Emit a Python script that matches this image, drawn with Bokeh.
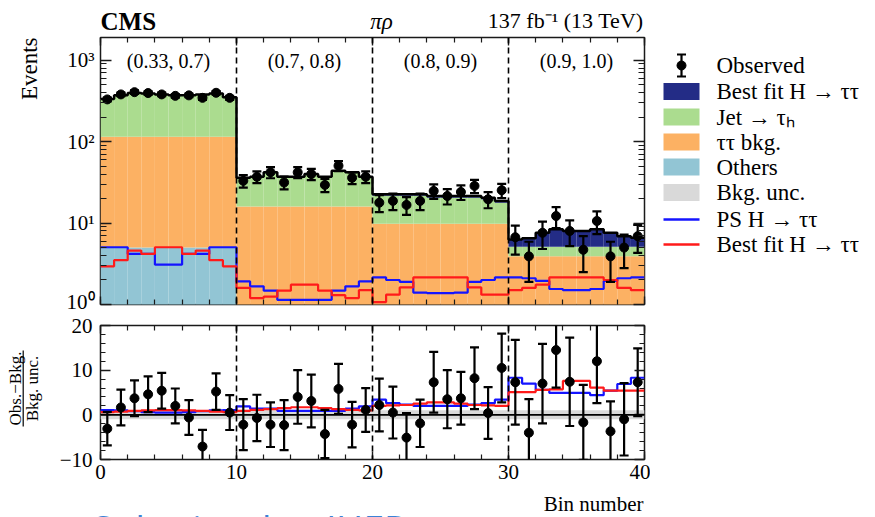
import math
import numpy as np
from bokeh.plotting import figure
from bokeh.models import Range1d, FixedTicker, LinearAxis, LogAxis, Span, Label
from bokeh.layouts import column, row
from bokeh.embed import file_html
from bokeh.resources import INLINE
from bokeh.core.properties import value

FONT = "Liberation Serif"

# ---------------- data ----------------
group_labels = ["(0.33, 0.7)", "(0.7, 0.8)", "(0.8, 0.9)", "(0.9, 1.0)"]
group_centers = [5, 15, 25, 35]
group_bounds = [10, 20, 30]

others_g1 = [5.0, 5.0, 5.0, 5.0, 5.0, 5.0, 5.0, 5.0, 5.0, 5.0]
others_g2 = [0.5, 0.5, 0.5, 0.5, 0.5, 0.5, 0.5, 0.5, 0.5, 0.5]
others_g3 = [0.4, 0.4, 0.4, 0.4, 0.4, 0.4, 0.4, 0.4, 0.4, 0.4]
others_g4 = [0.3, 0.3, 0.3, 0.3, 0.3, 0.3, 0.3, 0.3, 0.3, 0.3]

tt_g1 = [110, 110, 110, 110, 110, 110, 110, 110, 110, 110]
tt_g2 = [15.5, 15.5, 15.5, 15.5, 15.5, 15.5, 15.5, 15.5, 15.5, 15.5]
tt_g3 = [9.4, 9.4, 9.4, 9.4, 9.4, 9.4, 9.4, 9.4, 9.4, 9.4]
tt_g4 = [3.6, 3.6, 3.6, 3.6, 3.6, 3.6, 3.6, 3.6, 3.6, 3.6]

jet_g1 = [218, 253, 278, 273, 263, 253, 253, 263, 273, 233]
jet_g2 = [19.4, 20.4, 25.4, 20.4, 20.4, 23.4, 20.4, 27.4, 25.4, 20.4]
jet_g3 = [11.8, 11.8, 11.8, 11.8, 10.7, 10.7, 10.7, 10.7, 9.7, 7.9]
jet_g4 = [1.2, 1.2, 1.2, 1.2, 1.2, 1.2, 1.2, 1.2, 1.2, 1.2]

higgs_g1 = [2.0, 2.0, 2.0, 2.0, 2.0, 2.0, 2.0, 2.0, 2.0, 2.0]
higgs_g2 = [0.6, 0.6, 0.6, 0.6, 0.6, 0.6, 0.6, 0.6, 0.6, 0.6]
higgs_g3 = [1.0, 1.0, 1.0, 1.0, 1.0, 1.0, 1.0, 1.0, 1.0, 1.0]
higgs_g4 = [1.2, 1.4, 2.5, 3.3, 2.9, 2.9, 3.3, 2.5, 1.8, 1.5]

obs_g1 = [330, 380, 405, 395, 380, 365, 370, 345, 398, 345]
obs_g2 = [33, 37, 42, 31.5, 42, 40, 29.4, 50.5, 36, 37]
obs_g3 = [17.8, 18.7, 16.7, 18.7, 24.8, 21.5, 24.1, 28.6, 19.6, 25.3]
obs_g4 = [6.7, 3.9, 7.6, 12.2, 8.0, 4.7, 10.6, 3.9, 5.0, 6.9]

obs_err_g1 = [18, 19, 20, 20, 19, 19, 19, 19, 20, 19]
obs_err_g2 = [5.7, 6.1, 6.5, 5.6, 6.5, 6.3, 5.4, 7.1, 6.0, 6.1]
obs_err_g3 = [4.2, 4.3, 4.1, 4.3, 5.0, 4.6, 4.9, 5.3, 4.4, 5.0]
obs_err_g4 = [2.6, 2.0, 2.8, 3.5, 2.8, 2.2, 3.3, 2.0, 2.2, 2.6]

ps_g1 = [5.05, 5.05, 4.18, 4.18, 3.09, 3.09, 4.18, 4.18, 5.05, 5.05]
ps_g2 = [1.92, 1.67, 1.48, 1.14, 1.14, 1.14, 1.14, 1.48, 1.67, 1.92]
ps_g3 = [2.15, 2.0, 1.9, 1.4, 1.38, 1.38, 1.4, 1.9, 2.0, 2.15]
ps_g4 = [2.15, 2.1, 1.95, 1.55, 1.5, 1.5, 1.55, 1.95, 2.1, 2.15]

bf_g1 = [2.94, 3.5, 4.6, 4.18, 5.05, 5.05, 4.18, 4.6, 3.5, 2.94]
bf_g2 = [1.6, 1.2, 1.25, 1.48, 1.75, 1.75, 1.48, 1.3, 1.2, 1.5]
bf_g3 = [1.07, 1.32, 1.62, 2.15, 2.15, 2.15, 2.15, 1.62, 1.32, 1.32]
bf_g4 = [1.5, 1.6, 1.75, 2.15, 2.15, 2.15, 2.15, 2.0, 1.6, 1.5]

# ratio panel: (Obs. - Bkg.) / Bkg. unc.
pull = [-3.1, 1.65, 3.7, 4.6, 5.4, 2.0, -0.6, -7.1, 5.2, 0.5,
        -2.2, -0.7, -2.2, -2.3, 4.0, 3.1, -4.3, 5.8, -2.2, 1.1,
        2.2, 0.5, -5.1, -1.9, 7.3, 3.5, 3.7, 8.2, 0.4, 10.5,
        7.3, -4.0, 7.0, 14.5, 7.4, -1.7, 12.0, -3.7, -1.0, 7.3]
pull_err = [3.75, 4.0, 4.0, 4.0, 4.0, 3.9, 3.9, 3.75, 4.1, 3.9,
            5.7, 5.2, 5.0, 5.6, 6.0, 5.9, 5.4, 5.6, 5.1, 4.9,
            5.9, 5.8, 5.5, 5.3, 6.8, 6.5, 5.9, 6.9, 5.8, 7.7,
            9.5, 7.5, 8.9, 8.4, 9.9, 8.4, 9.4, 6.7, 8.1, 7.6]
pull_ps = [1.05, 1.0, 0.8, 0.6, 0.5, 0.5, 0.6, 0.8, 1.0, 1.05,
           1.9, 1.4, 1.4, 0.9, 0.9, 0.9, 0.9, 0.9, 1.4, 1.9,
           3.4, 2.6, 2.3, 2.0, 2.0, 2.0, 2.0, 2.3, 2.6, 3.4,
           8.3, 7.0, 5.6, 4.9, 4.9, 4.9, 4.4, 5.4, 6.9, 8.3]
pull_bf = [0.6, 0.7, 0.9, 1.0, 1.05, 1.05, 1.0, 0.9, 0.7, 0.6,
           0.9, 1.1, 1.3, 1.5, 1.7, 1.7, 1.5, 1.3, 1.1, 1.0,
           2.0, 2.1, 2.2, 2.5, 2.8, 2.8, 2.5, 2.2, 2.1, 2.0,
           5.1, 5.1, 5.6, 5.7, 7.6, 7.6, 6.1, 5.4, 5.4, 5.4]
bkg_unc_band = 1.0

legend_labels = ["Observed", "Best fit H \u2192 \u03c4\u03c4", "Jet \u2192 \u03c4\u2095",
                 "\u03c4\u03c4 bkg.", "Others", "Bkg. unc.", "PS H \u2192 \u03c4\u03c4",
                 "Best fit H \u2192 \u03c4\u03c4"]

x_major = [0, 10, 20, 30, 40]
x_minor = [0, 2, 4, 6, 8, 10, 12, 14, 16, 18, 20, 22, 24, 26, 28, 30, 32, 34, 36, 38, 40]
log_major = [1, 10, 100, 1000]
log_minor = [2, 3, 4, 5, 6, 7, 8, 9, 20, 30, 40, 50, 60, 70, 80, 90,
             200, 300, 400, 500, 600, 700, 800, 900]
log_labels = {1: "10\u2070", 10: "10\u00b9", 100: "10\u00b2", 1000: "10\u00b3"}
r_major = [-10, 0, 10, 20]
r_minor = [-10, -8, -6, -4, -2, 0, 2, 4, 6, 8, 10, 12, 14, 16, 18, 20]
r_labels = {-10: "\u221210", 0: "0", 10: "10", 20: "20"}

# ---------------- colours ----------------
C_OTH = "#92c5d4"
C_TT = "#fcb163"
C_JET = "#abdc8f"
C_H = "#232c86"
C_UNC = "#d9d9d9"
C_PS = "#1414ff"
C_BF = "#ff1a1a"
C_AX = "#1a1a1a"

def cat(a, b, c, d):
    return np.array(a + b + c + d, dtype=float)

others = cat(others_g1, others_g2, others_g3, others_g4)
tt = cat(tt_g1, tt_g2, tt_g3, tt_g4)
jet = cat(jet_g1, jet_g2, jet_g3, jet_g4)
higgs = cat(higgs_g1, higgs_g2, higgs_g3, higgs_g4)
obs = cat(obs_g1, obs_g2, obs_g3, obs_g4)
obs_err = cat(obs_err_g1, obs_err_g2, obs_err_g3, obs_err_g4)
ps = cat(ps_g1, ps_g2, ps_g3, ps_g4)
bf = cat(bf_g1, bf_g2, bf_g3, bf_g4)
pull = np.array(pull); pull_err = np.array(pull_err)
pull_ps = np.array(pull_ps); pull_bf = np.array(pull_bf)

N = len(obs)
edges = np.arange(N + 1, dtype=float)
centers = edges[:-1] + 0.5

def stepy(v):
    return np.append(v, v[-1])

YMIN, YMAX = 1, 1900
RMIN, RMAX = -10, 20

def style_ax(ax, ticker, show, maj=10, mnr=5, size="21px", standoff=6, overrides=None):
    ax.ticker = ticker
    ax.axis_line_color = None
    ax.major_tick_in = maj
    ax.major_tick_out = 0
    ax.minor_tick_in = mnr
    ax.minor_tick_out = 0
    ax.major_tick_line_color = C_AX
    ax.minor_tick_line_color = C_AX
    ax.major_tick_line_width = 1.4
    ax.minor_tick_line_width = 1.2
    if show:
        ax.major_label_text_font = FONT
        ax.major_label_text_font_size = size
        ax.major_label_text_color = "black"
        ax.major_label_standoff = standoff
        if overrides:
            ax.major_label_overrides = overrides
    else:
        ax.major_label_text_font_size = "1px"
        ax.major_label_text_color = None
        ax.major_label_standoff = 0

def pixel_fig(w, h, bl=0, br=0):
    """Plain canvas, pixel coordinates (y down) inside its frame."""
    fw = w - bl - br
    f = figure(width=w, height=h, x_range=Range1d(0, fw), y_range=Range1d(h, 0),
               output_backend="svg", toolbar_location=None, x_axis_location=None,
               y_axis_location=None, min_border=0, min_border_left=bl, min_border_right=br)
    f.grid.visible = False
    f.outline_line_color = None
    return f

# layout geometry (page pixels)
LEFT_W = 55          # strip holding rotated axis titles
MAIN_W = 595         # main column (frame from x=100 to 644)
BL, BR = 45, 6
LEG_W = 875 - LEFT_W - MAIN_W
HEAD_H = 34
TOP_H = 279
BOT_H = 176
FOOT_H = 517 - HEAD_H - TOP_H - BOT_H
UPPER_H = HEAD_H + TOP_H

# ---------------- header (texts above the frame) ----------------
head = pixel_fig(MAIN_W, HEAD_H, BL, BR)
head.text(x=[0], y=[21], text=["CMS"], text_align="left", text_baseline="middle",
          text_font=value(FONT), text_font_size="25px", text_font_style="bold", text_color="black")
head.text(x=[281], y=[21], text=["\u03c0\u03c1"], text_align="center", text_baseline="middle",
          text_font=value(FONT), text_font_size="23px", text_font_style="italic", text_color="black")
head.text(x=[543], y=[20], text=["137 fb\u207b\u00b9 (13 TeV)"], text_align="right",
          text_baseline="middle", text_font=value(FONT), text_font_size="22px", text_color="black")

# ---------------- top panel ----------------
top = figure(width=MAIN_W, height=TOP_H, y_axis_type="log",
             x_range=Range1d(0, 40), y_range=Range1d(YMIN, YMAX),
             output_backend="svg", toolbar_location=None,
             min_border_left=BL, min_border_right=BR, min_border_top=3, min_border_bottom=9)
top.grid.visible = False
top.outline_line_color = C_AX
top.outline_line_width = 1.5

bottom_stack = np.full(N, 1e-3)
for vals, col in [(others, C_OTH), (tt, C_TT), (jet, C_JET), (higgs, C_H)]:
    top_stack = bottom_stack + vals
    top.quad(left=edges[:-1], right=edges[1:], bottom=bottom_stack, top=top_stack,
             fill_color=col, line_color=None)
    bottom_stack = top_stack
total = bottom_stack

top.step(edges, stepy(total), mode="after", line_color="black", line_width=2.5)
top.step(edges, stepy(ps), mode="after", line_color=C_PS, line_width=2.2)
top.step(edges, stepy(bf), mode="after", line_color=C_BF, line_width=2.2)

for b in group_bounds:
    top.add_layout(Span(location=b, dimension="height", line_color="black",
                        line_width=1.6, line_dash="6 4"))

top.segment(x0=centers, y0=obs - obs_err, x1=centers, y1=obs + obs_err,
            line_color="black", line_width=2.2)
top.scatter(centers, obs + obs_err, marker="dash", size=9, line_color="black", line_width=2.2)
top.scatter(centers, obs - obs_err, marker="dash", size=9, line_color="black", line_width=2.2)
top.scatter(centers, obs, marker="circle", size=9, fill_color="black", line_color="black")

style_ax(top.xaxis[0], FixedTicker(ticks=x_major, minor_ticks=x_minor), False, maj=8, mnr=5)
style_ax(top.yaxis[0], FixedTicker(ticks=log_major, minor_ticks=log_minor), True,
         maj=11, mnr=6, size="21px", standoff=6, overrides=log_labels)
ax_r = LogAxis()
top.add_layout(ax_r, "right")
style_ax(ax_r, FixedTicker(ticks=log_major, minor_ticks=log_minor), False, maj=11, mnr=6)
ax_t = LinearAxis()
top.add_layout(ax_t, "above")
style_ax(ax_t, FixedTicker(ticks=x_major, minor_ticks=x_minor), False, maj=8, mnr=5)

for gx_, gl in zip(group_centers, group_labels):
    top.add_layout(Label(x=gx_, y=YMAX, y_offset=-23, text=gl, text_align="center",
                         text_baseline="middle", text_font=FONT, text_font_size="20px",
                         text_color="black"))

# ---------------- ratio panel ----------------
bot = figure(width=MAIN_W, height=BOT_H, x_range=Range1d(0, 40), y_range=Range1d(RMIN, RMAX),
             output_backend="svg", toolbar_location=None,
             min_border_left=BL, min_border_right=BR, min_border_top=12,
             min_border_bottom=BOT_H - 12 - 134)
bot.grid.visible = False
bot.outline_line_color = C_AX
bot.outline_line_width = 1.5

bot.quad(left=[0], right=[40], bottom=[-bkg_unc_band], top=[bkg_unc_band], fill_color=C_UNC, line_color=None)
bot.add_layout(Span(location=0, dimension="width", line_color="black", line_width=1.8))
bot.step(edges, stepy(pull_ps), mode="after", line_color=C_PS, line_width=2.2)
bot.step(edges, stepy(pull_bf), mode="after", line_color=C_BF, line_width=2.2)
for b in group_bounds:
    bot.add_layout(Span(location=b, dimension="height", line_color="black",
                        line_width=1.6, line_dash="6 4"))
bot.segment(x0=centers, y0=pull - pull_err, x1=centers, y1=pull + pull_err,
            line_color="black", line_width=2.2)
bot.scatter(centers, pull + pull_err, marker="dash", size=9, line_color="black", line_width=2.2)
bot.scatter(centers, pull - pull_err, marker="dash", size=9, line_color="black", line_width=2.2)
bot.scatter(centers, pull, marker="circle", size=9, fill_color="black", line_color="black")

style_ax(bot.xaxis[0], FixedTicker(ticks=x_major, minor_ticks=x_minor), True,
         maj=8, mnr=5, size="21px", standoff=5)
style_ax(bot.yaxis[0], FixedTicker(ticks=r_major, minor_ticks=r_minor), True,
         maj=10, mnr=5, size="21px", standoff=8, overrides=r_labels)
bax_r = LinearAxis()
bot.add_layout(bax_r, "right")
style_ax(bax_r, FixedTicker(ticks=r_major, minor_ticks=r_minor), False, maj=10, mnr=5)
bax_t = LinearAxis()
bot.add_layout(bax_t, "above")
style_ax(bax_t, FixedTicker(ticks=x_major, minor_ticks=x_minor), False, maj=8, mnr=5)

# ---------------- left strips (rotated axis titles) ----------------
strip_top = pixel_fig(LEFT_W, UPPER_H)
strip_top.text(x=[28.5], y=[37], text=["Events"], angle=math.pi / 2, text_align="right",
               text_baseline="middle", text_font=value(FONT), text_font_size="23px", text_color="black")
strip_bot = pixel_fig(LEFT_W, BOT_H)
frac_cy = 388 - UPPER_H
strip_bot.text(x=[14.5], y=[frac_cy], text=["Obs.\u2212Bkg."], angle=math.pi / 2, text_align="center",
               text_baseline="middle", text_font=value(FONT), text_font_size="17px", text_color="black")
strip_bot.text(x=[31.5], y=[frac_cy], text=["Bkg. unc."], angle=math.pi / 2, text_align="center",
               text_baseline="middle", text_font=value(FONT), text_font_size="17px", text_color="black")
strip_bot.segment(x0=[22.7], y0=[frac_cy - 38], x1=[22.7], y1=[frac_cy + 38], line_color="black", line_width=1.2)

# ---------------- legend panel ----------------
leg = pixel_fig(LEG_W, UPPER_H)
rows_y = [65, 91, 116.5, 141.5, 166.5, 192, 219, 244]
sw_l, sw_r, sw_h = 13, 49, 8.5
gx = 31
leg.segment(x0=[gx], y0=[rows_y[0] - 11], x1=[gx], y1=[rows_y[0] + 11], line_color="black", line_width=2.2)
leg.scatter([gx, gx], [rows_y[0] - 11, rows_y[0] + 11], marker="dash", size=9, line_color="black", line_width=2.2)
leg.scatter([gx], [rows_y[0]], marker="circle", size=9, fill_color="black", line_color="black")
box_cols = [C_H, C_JET, C_TT, C_OTH, C_UNC]
for i, col in enumerate(box_cols):
    yy = rows_y[1 + i]
    leg.quad(left=[sw_l], right=[sw_r], top=[yy - sw_h], bottom=[yy + sw_h], fill_color=col, line_color=None)
for i, col in enumerate([C_PS, C_BF]):
    yy = rows_y[6 + i]
    leg.segment(x0=[sw_l], y0=[yy], x1=[sw_r], y1=[yy], line_color=col, line_width=2.5)
leg.text(x=[66] * len(legend_labels), y=rows_y, text=legend_labels, text_baseline="middle",
         text_align="left", text_font=value(FONT), text_font_size="23px", text_color="black")

# ---------------- footer (full width) ----------------
foot = pixel_fig(875, FOOT_H)
foot.text(x=[643], y=[14], text=["Bin number"], text_align="right", text_baseline="middle",
          text_font=value(FONT), text_font_size="21px", text_color="black")
foot.text(x=[92], y=[12], text=["Submitted to JHEP"], text_align="left", text_baseline="top",
          text_font=value("Open Sans"), text_font_size="37px", text_color="#3b82d6")

upper = row(column(strip_top, strip_bot),
            column(head, top, bot),
            leg)
p = column(upper, foot)
open("out.html", "w").write(file_html(p, INLINE))
